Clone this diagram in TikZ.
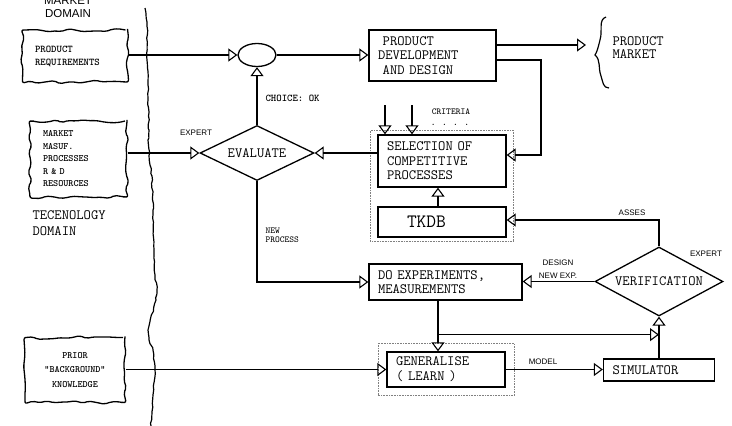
\documentclass[tikz,border=0pt]{standalone}
\usepackage{fontspec}
\setsansfont{Liberation Sans}
\usetikzlibrary{arrows.meta,shapes.geometric,decorations.pathmorphing,fit}

\begin{document}
\begin{tikzpicture}[x=1pt,y=-1pt,line width=1.1pt,
  >={Triangle[open,length=9pt,width=13pt,line width=1.1pt]},
  box/.style={draw,line width=1.3pt,inner xsep=9pt,inner ysep=0pt,align=left,font=\ttfamily\fontsize{14.2}{14.5}\selectfont},
  cloud/.style={draw,line width=1.3pt,decorate,decoration={random steps,segment length=7pt,amplitude=1.8pt},rounded corners=2pt,inner sep=0pt,font=\ttfamily\bfseries\fontsize{10.3}{13}\selectfont},
  crit/.style={draw,diamond,aspect=2,line width=1.3pt,inner sep=0pt,font=\ttfamily\fontsize{14.2}{14}\selectfont},
  tt/.style={inner sep=0pt,align=left,font=\ttfamily\bfseries\fontsize{10.3}{9.5}\selectfont},
  ss/.style={inner sep=0pt,align=center,font=\sffamily\fontsize{8}{12.5}\selectfont},
  fence/.style={draw,densely dotted,line width=.6pt,gray,inner xsep=7pt,inner ysep=4pt}]
  \useasboundingbox (0,0) rectangle (732,426);
  \pgfmathsetseed{7}
  % domains
  \draw[decorate,decoration={random steps,segment length=4pt,amplitude=.7pt},line width=1.2pt]
    (145,8)--(146,14)--(147,22)--(147,60)--(148,85)--(148,100)--(149,130)--(148,140)--(150,165)
    --(152,176)--(153,210)--(154,250)--(155,275)--(157,290)--(156,300)--(148,330)--(149,340)
    --(153,350)--(155,370)--(153,395)--(151,426);
  \node[inner sep=0pt,align=center,font=\sffamily\fontsize{11.5}{13}\selectfont] (mdom) at (68,7) {MARKET\\DOMAIN};
  \node[inner sep=0pt,align=left,anchor=west,font=\ttfamily\fontsize{14.2}{16}\selectfont] (tdom) at (32,223) {TECENOLOGY\\DOMAIN};
  % inputs
  \node[cloud,minimum width=105pt,minimum height=52pt,text width=80pt] (preq) at (75,56) {PRODUCT\\REQUIREMENTS};
  \node[cloud,minimum width=97pt,minimum height=76pt,text width=71pt,font=\ttfamily\bfseries\fontsize{9.7}{12.5}\selectfont] (mkt) at (78.5,159) {MARKET\\MASUF.\\PROCESSES\\R \& D\\RESOURCES};
  \node[cloud,minimum width=100pt,minimum height=65pt,align=center,font=\ttfamily\bfseries\fontsize{9.7}{14.5}\selectfont] (prior) at (75,370) {PRIOR\\"BACKGROUND"\\KNOWLEDGE};
  % blocks
  \node[draw,ellipse,line width=1.3pt,minimum width=38pt,minimum height=23pt,inner sep=0pt] (choice) at (257,55) {};
  \node[box,text width=109pt,minimum height=51pt] (pdev) at (432.5,55.5) {~PRODUCT\\DEVELOPMENT\\~AND DESIGN};
  \node[crit,minimum width=114pt,minimum height=55pt] (eval) at (257,153) {EVALUATE};
  \node[box,text width=110pt,minimum height=52pt] (sel) at (442,161) {SELECTION OF\\COMPETITIVE\\PROCESSES};
  \node[box,inner xsep=29pt,text width=70pt,minimum height=30pt,font=\ttfamily\fontsize{18.9}{18}\selectfont] (tkdb) at (442,222) {TKDB};
  \node[box,text width=135pt,minimum height=36pt,font=\ttfamily\fontsize{14.2}{14}\selectfont] (doexp) at (445.5,282) {DO EXPERIMENTS,\\MEASUREMENTS};
  \node[crit,minimum width=128pt,minimum height=69pt] (verif) at (659,281.5) {VERIFICATION};
  \node[box,text width=100pt,minimum height=35pt,font=\ttfamily\fontsize{14.2}{15}\selectfont] (gen) at (446,369.5) {GENERALISE\\( LEARN )};
  \node[box,text width=93pt,minimum height=22pt] (sim) at (659,370) {SIMULATOR};
  \node[fence,fit=(sel)(tkdb)] (selfence) {};
  \node[fence,inner xsep=8.5pt,inner ysep=8pt,fit=(gen)] (genfence) {};
  % output
  \coordinate (mktin) at (586,45);
  \draw[line width=1.2pt] (606,17) .. controls (598,20) and (603,30) .. (600,40)
    .. controls (598,48) and (597,52) .. (595,55) .. controls (601,60) and (598,68) .. (601,76)
    .. controls (603,82) and (603,88) .. (609,88);
  \node[inner sep=0pt,align=left,anchor=west,font=\ttfamily\fontsize{14.2}{13}\selectfont] (pmkt) at (612,47.5) {PRODUCT\\MARKET};
  % connectors
  \draw[->] (preq.east |- choice.west) -- (choice.west);
  \draw[->] (choice.east) -- (choice.east -| pdev.west);
  \draw[->] (pdev.east |- mktin) -- (mktin);
  \coordinate (fb) at (541,60);
  \coordinate (fbin) at (541,155);
  \draw[->] (pdev.east |- fb) -- (fb) -- (fbin) -- (fbin -| sel.east);
  \draw[->] (sel.west |- eval.east) -- (eval.east);
  \draw[->] (mkt.east |- eval.west) -- (eval.west);
  \draw[->] (eval.north) -- (choice.south);
  \coordinate (c1) at (385,105);
  \coordinate (c2) at (412,105);
  \draw[->] (c1) -- (c1 |- sel.north);
  \draw[->] (c2) -- (c2 |- sel.north);
  \draw[->] ([xshift=-4pt]tkdb.north) -- ([xshift=-4pt]sel.south);
  \draw[->] (eval.south) |- (doexp.west);
  \draw[->] (verif.west) -- (verif.west -| doexp.east);
  \draw[->] (verif.north) |- ([yshift=2pt]tkdb.east);
  \coordinate (dx) at ([xshift=-7.5pt]doexp.south);
  \path (dx) ++(0,34) coordinate (br);
  \draw[->] (dx) -- (dx |- gen.north);
  \draw[->] (br) -- (br -| sim.north);
  \draw[->] (sim.north) -- (verif.south);
  \draw[->] (prior.east |- gen.west) -- (gen.west);
  \draw[->] (gen.east) -- (gen.east -| sim.west);
  % labels
  \node[tt,anchor=west] (chok) at (265,98) {CHOICE: OK};
  \node[ss] (exp1) at (196,133) {EXPERT};
  \node[tt,font=\ttfamily\fontsize{9.1}{9}\selectfont] (critlbl) at (451,112) {CRITERIA};
  \node[tt,font=\ttfamily\bfseries\fontsize{9.1}{9}\selectfont] (dots) at (450,125) {. . . .};
  \node[tt,anchor=west,font=\ttfamily\fontsize{9.1}{9}\selectfont] (newp) at (265,235.5) {NEW\\PROCESS};
  \node[ss] (asses) at (632,213) {ASSES};
  \node[ss] (exp2) at (706,254) {EXPERT};
  \node[ss] (dnew) at (558,269) {DESIGN\\NEW EXP.};
  \node[ss] (model) at (543,362) {MODEL};
\end{tikzpicture}
\end{document}
